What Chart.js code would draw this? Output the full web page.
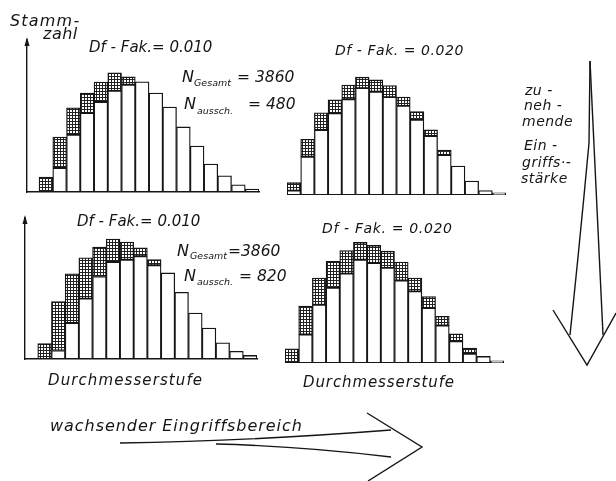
<!DOCTYPE html>
<html>
<head>
<meta charset="utf-8">
<script src="https://cdn.jsdelivr.net/npm/chart.js@4/dist/chart.umd.min.js"></script>
<style>
  body { margin: 0; background: #fff; }
  #page { position: relative; width: 616px; height: 481px; overflow: hidden; background: #fff; }
  #page canvas { position: absolute; }
  .t { position: absolute; white-space: nowrap; line-height: 1; color: #151515;
       font-family: "DejaVu Sans", "Liberation Sans", sans-serif; font-style: italic; }
  svg { position: absolute; left: 0; top: 0; }
</style>
</head>
<body>
<div id="page">
  <canvas id="tl"></canvas>
  <canvas id="tr"></canvas>
  <canvas id="bl"></canvas>
  <canvas id="br"></canvas>
  <svg width="616" height="481" fill="none" stroke="#151515" stroke-width="1.4">
    <path d="M120 443 Q 250 441 391 430" />
    <path d="M216 444 Q 300 446 391 457" />
    <path d="M367 413 L422 447 L368 481" />
    <path d="M590 61 L589 143 Q 580 240 570 335" />
    <path d="M590 61 Q 596 200 603 335" />
    <path d="M553 310 L587 365 L616 313" />
  </svg>
</div>
<script>
// Durchmesserstufen
const stufen = [1, 2, 3, 4, 5, 6, 7, 8, 9, 10, 11, 12, 13, 14, 15, 16];

// Stammzahl je Stufe: verbleibend / ausgeschieden
const verbleibendObenLinks = [0, 88, 209, 289, 329, 370, 392, 403, 362, 311, 238, 168, 102, 59, 26, 11];
const ausgeschObenLinks    = [55, 113, 99, 73, 73, 66, 29, 0, 0, 0, 0, 0, 0, 0, 0, 0];

const verbleibendObenRechts = [16, 140, 238, 299, 350, 391, 378, 358, 326, 275, 216, 146, 106, 51, 16, 8];
const ausgeschObenRechts    = [29, 64, 63, 49, 52, 40, 43, 42, 32, 30, 22, 18, 0, 0, 0, 0];

const verbleibendUntenLinks = [0, 31, 132, 221, 302, 355, 363, 376, 343, 315, 244, 168, 113, 59, 28, 13];
const ausgeschUntenLinks    = [56, 179, 180, 149, 108, 84, 65, 31, 21, 0, 0, 0, 0, 0, 0, 0];

const verbleibendUntenRechts = [0, 104, 213, 275, 327, 378, 366, 348, 302, 262, 201, 137, 79, 34, 24, 8];
const ausgeschUntenRechts    = [52, 104, 98, 97, 84, 63, 64, 61, 67, 49, 42, 34, 28, 21, 0, 0];

const ink = "#151515";

function hatchPattern() {
    const c = document.createElement("canvas");
    c.width = c.height = 3;
    const g = c.getContext("2d");
    g.fillStyle = "#fff";
    g.fillRect(0, 0, 3, 3);
    g.fillStyle = "#222";
    g.fillRect(0, 0, 3, 1);
    g.fillRect(0, 0, 1, 3);
    return g.createPattern(c, "repeat");
}
const hatch = hatchPattern();

// arrow tip on the Stammzahl axis
const axisArrow = {
    id: "axisArrow",
    afterDraw(chart, args, opts) {
        if (!opts.show) return;
        const { left, top } = chart.chartArea;
        const ctx = chart.ctx;
        ctx.save();
        ctx.fillStyle = ink;
        ctx.beginPath();
        ctx.moveTo(left, top - 3);
        ctx.lineTo(left - 2.5, top + 6);
        ctx.lineTo(left + 2.5, top + 6);
        ctx.closePath();
        ctx.fill();
        ctx.restore();
    }
};

function panel(id, kept, cut, box) {
    const pad = 6;
    const canvas = document.getElementById(id);
    canvas.width = box.right - box.left + 2 * pad;
    canvas.height = box.bottom - box.top + 2 * pad;
    canvas.style.left = (box.left - pad) + "px";
    canvas.style.top = (box.top - pad) + "px";

    const bar = {
        borderColor: ink,
        borderWidth: 1.3,
        borderSkipped: false,
        barPercentage: 1,
        categoryPercentage: 1
    };
    const axisStyle = {
        display: box.axis,
        grid: { display: false, drawTicks: false },
        border: { display: true, color: ink, width: 1.4 }
    };

    return new Chart(canvas, {
        type: "bar",
        data: {
            datasets: [
                { ...bar, data: stufen.map((s, i) => ({ x: s, y: kept[i] })), backgroundColor: "#fff" },
                { ...bar, data: stufen.map((s, i) => ({ x: s, y: cut[i] })), backgroundColor: hatch }
            ]
        },
        options: {
            responsive: false,
            animation: false,
            layout: { padding: pad },
            plugins: {
                legend: { display: false },
                tooltip: { enabled: false },
                axisArrow: { show: box.axis }
            },
            scales: {
                x: {
                    ...axisStyle, type: "linear", offset: false, stacked: true,
                    min: box.xMin, max: 16.5,
                    ticks: { display: false, stepSize: 1, includeBounds: false }
                },
                y: { ...axisStyle, stacked: true, min: 0, max: box.yMax, ticks: { display: false } }
            }
        },
        plugins: [axisArrow]
    });
}

panel("tl", verbleibendObenLinks, ausgeschObenLinks,
      { left: 27, right: 259, top: 40, bottom: 192, xMin: -0.375, yMax: 556, axis: true });
panel("tr", verbleibendObenRechts, ausgeschObenRechts,
      { left: 287, right: 506, top: 43, bottom: 195, xMin: 0.5, yMax: 556, axis: false });
panel("bl", verbleibendUntenLinks, ausgeschUntenLinks,
      { left: 25, right: 257, top: 218, bottom: 359, xMin: -0.43, yMax: 516, axis: true });
panel("br", verbleibendUntenRechts, ausgeschUntenRechts,
      { left: 285, right: 504, top: 211, bottom: 363, xMin: 0.5, yMax: 556, axis: false });

// labels, placed by baseline
const page = document.getElementById("page");
function label(str, x, baseline, size, spacing) {
    const el = document.createElement("div");
    el.className = "t";
    el.textContent = str;
    el.style.fontSize = size + "px";
    el.style.left = x + "px";
    el.style.top = (baseline - 0.846 * size) + "px";
    if (spacing) el.style.letterSpacing = spacing + "px";
    page.appendChild(el);
}

label("Stamm-", 10, 27, 16, 1.2);
label("zahl", 43, 40, 16, 0.5);

label("Df - Fak.= 0.010", 89, 53, 15, 0);
label("N", 182, 83, 16);
label("Gesamt", 194, 86, 9.5);
label("= 3860", 237, 83, 15.5, 0);
label("N", 184, 110, 16);
label("aussch.", 197, 114, 9.5);
label("= 480", 248, 110, 15.5, 0);

label("Df - Fak. = 0.020", 335, 55, 14, 0.55);

label("zu -", 525, 95, 14, 0.5);
label("neh -", 524, 110, 14, 0.5);
label("mende", 522, 126, 14, 0.5);
label("Ein -", 524, 150, 14, 0.5);
label("griffs\u00b7-", 522, 167, 14, 0.5);
label("stärke", 521, 183, 14, 0.5);

label("Df - Fak.= 0.010", 77, 227, 15, 0);
label("N", 177, 257, 16);
label("Gesamt", 190, 259, 9.5);
label("=3860", 228, 257, 15.5, 0);
label("N", 184, 282, 16);
label("aussch.", 197, 285, 9.5);
label("= 820", 239, 282, 15.5, 0);

label("Df - Fak. = 0.020", 322, 233, 14, 0.65);

label("Durchmesserstufe", 48, 386, 15, 1.1);
label("Durchmesserstufe", 303, 388, 15, 0.9);

label("wachsender Eingriffsbereich", 50, 432, 16, 0.95);
</script>
</body>
</html>
